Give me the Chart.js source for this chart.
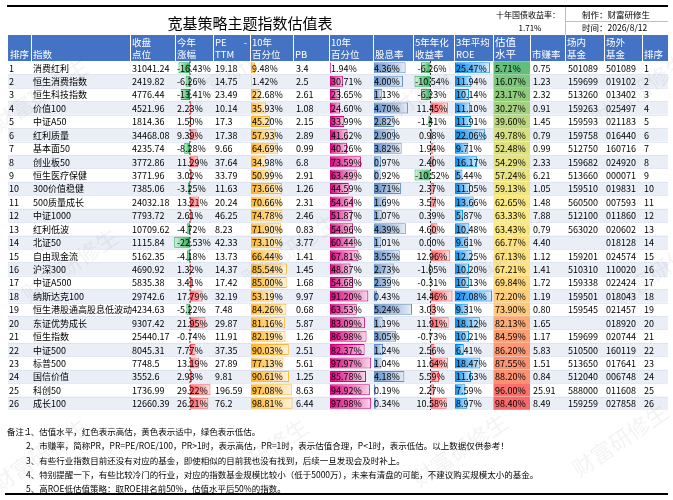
<!DOCTYPE html>
<html lang="zh">
<head>
    <meta charset="UTF-8">
    <title>宽基策略主题指数估值表</title>
    <style>
        html, body { margin: 0; padding: 0; background: #fff; }
        #wrap { width: 673px; height: 500px; position: relative; }
    </style>
</head>
<body>
    <div id="wrap"><canvas id="valuationTable"></canvas></div>

    <script src="https://cdn.jsdelivr.net/npm/chart.js@4.4.1/dist/chart.umd.min.js"></script>
    <script>

    const rowNo = ['1','2','3','4','5','6','7','8','9','10','11','12','13','14','15','16','17','18','19','20','21','22','23','24','25','26'];
    const names = ['消费红利','恒生消费指数','恒生科技指数','价值100','中证A50','红利质量','基本面50','创业板50','恒生医疗保健','300价值稳健','500质量成长','中证1000','红利低波','北证50','自由现金流','沪深300','中证A500','纳斯达克100','恒生港股通高股息低波动','东证优势成长','恒生指数','中证500','标普500','国信价值','科创50','成长100'];
    const closePts = [31041.24, 2419.82, 4776.44, 4521.96, 1814.36, 34468.08, 4235.74, 3772.86, 3771.96, 7385.06, 24032.18, 7793.72, 10709.62, 1115.84, 5162.35, 4690.92, 5835.38, 29742.6, 4234.63, 9307.42, 25440.17, 8045.31, 7748.5, 3552.6, 1736.99, 12660.39];
    const ytdChange = [-16.43, -6.26, -13.41, 2.23, 1.50, 9.39, -8.28, 11.29, 3.02, -3.25, 13.21, 2.61, -4.72, -22.53, -4.18, 1.32, 3.41, 17.79, -5.22, 21.95, -0.74, 7.77, 13.19, 2.93, 29.22, 26.21];
    const peTTM = [19.18, 14.75, 23.49, 10.14, 17.3, 17.38, 9.66, 37.64, 33.79, 11.63, 20.24, 46.25, 8.23, 42.33, 13.73, 14.37, 17.42, 32.19, 7.48, 29.87, 11.91, 37.35, 27.89, 9.81, 196.59, 76.2];
    const pePct = [9.48, 1.42, 22.68, 35.93, 45.20, 57.93, 64.69, 34.98, 50.99, 73.66, 70.66, 74.78, 71.90, 73.10, 66.44, 85.54, 85.00, 53.19, 84.26, 81.16, 82.19, 90.03, 77.13, 90.61, 97.08, 98.81];
    const pb = [3.4, 2.5, 2.61, 1.08, 2.15, 2.89, 0.99, 6.8, 2.91, 1.26, 2.31, 2.46, 0.83, 3.77, 1.41, 1.45, 1.68, 9.97, 0.68, 5.87, 1.26, 2.51, 5.61, 1.25, 8.63, 6.44];
    const pbPct = [1.94, 30.71, 23.65, 24.60, 33.99, 41.62, 40.26, 73.59, 63.49, 44.59, 54.64, 51.87, 54.96, 60.44, 67.81, 48.87, 54.68, 91.20, 63.53, 83.09, 86.98, 82.37, 97.97, 85.78, 94.92, 97.98];
    const divYield = [4.36, 4.00, 1.13, 4.70, 2.82, 2.90, 3.82, 0.97, 0.92, 3.71, 1.69, 1.07, 4.39, 1.01, 3.55, 2.73, 2.39, 0.43, 5.24, 1.19, 3.05, 1.24, 1.04, 4.18, 0.19, 0.34];
    const ann5y = [-6.26, -10.54, -6.23, 11.45, -1.41, 0.98, 1.94, 2.40, -10.52, 2.37, 3.57, 0.39, 4.60, 0.00, 12.96, -1.05, -0.31, 14.46, 3.03, 11.91, -0.73, 2.56, 11.64, 5.59, 2.27, 10.58];
    const roe3y = [25.47, 11.94, 10.14, 11.10, 11.91, 22.06, 9.71, 16.17, 5.44, 11.05, 13.66, 5.87, 10.48, 9.61, 12.25, 10.20, 10.13, 27.08, 9.31, 18.12, 10.21, 6.41, 18.47, 11.63, 7.59, 8.97];
    const valLevel = [5.71, 16.07, 23.17, 30.27, 39.60, 49.78, 52.48, 54.29, 57.24, 59.13, 62.65, 63.33, 63.43, 66.77, 67.13, 67.21, 69.84, 72.20, 73.90, 82.13, 84.59, 86.20, 87.55, 88.20, 96.00, 98.40];
    const prRatio = ['0.75','1.23','2.32','0.91','1.45','0.79','0.99','2.33','6.21','1.05','1.48','7.88','0.79','4.40','1.12','1.41','1.72','1.19','0.80','1.65','1.17','5.83','1.51','0.84','25.91','8.49'];
    const onFund = ['501089','159699','513260','159263','159593','159758','512750','159682','513660','159510','560500','512100','563020','','159201','510310','159338','159501','159545','','159699','510500','513650','512040','588000','159259'];
    const offFund = ['501089','019102','013402','025497','021183','016440','160716','024920','000071','019831','007593','011860','020602','018128','024574','110020','022424','018043','021457','018920','020744','160119','017641','006748','011608','027858'];

    const headers = [['排序'], ['指数'], ['收盘', '点位'], ['今年', '涨幅'], ['PE', 'TTM'], ['10年', '百分位'], ['PB'], ['10年', '百分位'],
                     ['股息率'], ['5年年化', '收益率'], ['3年平均', 'ROE'], ['估值', '水平'], ['市赚率'], ['场内', '基金'], ['场外', '基金'], ['排序']];
    const bondYield = '1.71%';
    const makeDate = '2026/8/12';
    const notes = [
        '1、估值水平，红色表示高估，黄色表示适中，绿色表示低估。',
        '2、市赚率，简称PR，PR=PE/ROE/100，PR>1时，表示高估，PR=1时，表示估值合理，P<1时，表示低估。以上数据仅供参考！',
        '3、有些行业指数目前还没有对应的基金，即使相似的目前我也没有找到，后续一旦发现会及时补上。',
        '4、特别提醒一下，有些比较冷门的行业，对应的指数基金规模比较小（低于5000万），未来有清盘的可能，不建议购买规模太小的基金。',
        '5、高ROE低估值策略：取ROE排名前50%，估值水平后50%的指数。'
    ];

    // ---- layout (page pixels, x scale is 1:1 with the page) ----
    const cols = [8, 31, 130, 175, 213, 250, 293, 329, 373, 413, 454, 493, 530, 565, 604, 642, 668];
    const TOP = 61, BOTTOM = 410;
    const FONT = '"Noto Sans CJK SC", "Microsoft YaHei", sans-serif';
    const ytdAxis = 190, ytdK = 0.7;
    const annAxis = 430.5, annK = 1.52;

    const pct = v => v.toFixed(2) + '%';

    function mix(hex, t) {
        const n = parseInt(hex.slice(1), 16);
        const r = n >> 16, g = (n >> 8) & 255, b = n & 255;
        const m = c => Math.round(c + (255 - c) * t);
        return `rgb(${m(r)},${m(g)},${m(b)})`;
    }

    function gradientFill(color) {
        return (c) => {
            const r = c.raw;
            const xs = c.chart.scales && c.chart.scales.x;
            if (!r || !xs) return color;
            const x0 = xs.getPixelForValue(r[0]), x1 = xs.getPixelForValue(r[1]);
            if (!isFinite(x0) || !isFinite(x1) || Math.abs(x1 - x0) < 1) return color;
            const g = c.chart.ctx.createLinearGradient(x0, 0, x1, 0);
            g.addColorStop(0, color);
            g.addColorStop(1, mix(color, 0.85));
            return g;
        };
    }

    function dataBar(values, start, k, color, negColor) {
        const posFill = gradientFill(color);
        const negFill = negColor ? gradientFill(negColor) : posFill;
        return {
            data: values.map(v => [start, start + v * k]),
            backgroundColor: (c) => (values[c.dataIndex] < 0 ? negFill : posFill)(c),
            borderColor: values.map(v => (v < 0 && negColor) ? negColor : color),
            borderWidth: 1,
            borderSkipped: false,
            grouped: false,
            barPercentage: 0.82,
            categoryPercentage: 1
        };
    }

    // 3-colour scale: min green, median yellow, max red
    const sortedVal = valLevel.slice().sort((a, b) => a - b);
    const vMin = sortedVal[0], vMax = sortedVal[sortedVal.length - 1];
    const vMid = (sortedVal[12] + sortedVal[13]) / 2;
    function lerp(a, b, t) {
        return a.map((x, i) => Math.round(x + (b[i] - x) * t));
    }
    function scaleColor(v) {
        const green = [99, 190, 123], yellow = [255, 235, 132], red = [248, 105, 107];
        const c = v <= vMid ? lerp(green, yellow, (v - vMin) / (vMid - vMin)) : lerp(yellow, red, (v - vMid) / (vMax - vMid));
        return `rgb(${c[0]},${c[1]},${c[2]})`;
    }

    const textCols = [
        { x: 9,   get: i => rowNo[i] },
        { x: 33,  get: i => names[i] },
        { x: 132, get: i => String(closePts[i]) },
        { x: 177, get: i => pct(ytdChange[i]) },
        { x: 215, get: i => String(peTTM[i]) },
        { x: 252, get: i => pct(pePct[i]) },
        { x: 296, get: i => String(pb[i]) },
        { x: 331, get: i => pct(pbPct[i]) },
        { x: 374, get: i => pct(divYield[i]) },
        { x: 432, get: i => pct(ann5y[i]), align: 'center' },
        { x: 456, get: i => pct(roe3y[i]) },
        { x: 495, get: i => pct(valLevel[i]) },
        { x: 533, get: i => prRatio[i] },
        { x: 568, get: i => onFund[i] },
        { x: 606, get: i => offFund[i] },
        { x: 644, get: i => rowNo[i] }
    ];

    const tablePlugin = {
        id: 'tablePlugin',
        beforeDatasetsDraw(chart) {
            const ctx = chart.ctx, ys = chart.scales.y;
            const h = (BOTTOM - TOP) / rowNo.length;
            ctx.save();
            rowNo.forEach((r, i) => {
                const y = ys.getPixelForValue(i);
                if (i % 2 === 1) {
                    ctx.fillStyle = '#E9EEF7';
                    ctx.fillRect(cols[0], y - h / 2, cols[cols.length - 1] - cols[0], h);
                }
            });
            ctx.strokeStyle = '#D5DCEB';
            ctx.lineWidth = 0.6;
            for (let i = 1; i < rowNo.length; i++) {
                const y = Math.round(TOP + i * h) + 0.5;
                ctx.beginPath();
                ctx.moveTo(cols[0], y);
                ctx.lineTo(cols[cols.length - 1], y);
                ctx.stroke();
            }
            ctx.restore();
        },
        afterDatasetsDraw(chart) {
            const ctx = chart.ctx, ys = chart.scales.y;
            ctx.save();

            // dashed zero axes of the two signed columns
            ctx.strokeStyle = '#333';
            ctx.lineWidth = 1;
            ctx.setLineDash([2, 2]);
            [ytdAxis, annAxis].forEach(x => {
                ctx.beginPath();
                ctx.moveTo(x, TOP);
                ctx.lineTo(x, BOTTOM);
                ctx.stroke();
            });
            ctx.setLineDash([]);

            // cell texts
            ctx.fillStyle = '#000';
            ctx.textBaseline = 'middle';
            ctx.font = '9px ' + FONT;
            rowNo.forEach((r, i) => {
                const y = ys.getPixelForValue(i) + 0.5;
                textCols.forEach(c => {
                    ctx.textAlign = c.align || 'left';
                    ctx.fillText(c.get(i), c.x, y);
                });
            });

            // header band
            ctx.fillStyle = '#4472C4';
            ctx.fillRect(cols[0], 35, cols[cols.length - 1] - cols[0], TOP - 35);
            ctx.strokeStyle = '#fff';
            ctx.lineWidth = 1;
            cols.slice(1, -1).forEach(x => {
                ctx.beginPath();
                ctx.moveTo(x + 0.5, 35);
                ctx.lineTo(x + 0.5, TOP);
                ctx.stroke();
            });
            ctx.fillStyle = '#fff';
            ctx.textAlign = 'left';
            headers.forEach((hd, j) => {
                ctx.font = (j === 11 ? '10.5px ' : '9.5px ') + FONT;
                const x = cols[j] + 2;
                if (hd.length === 1) {
                    ctx.fillText(hd[0], x, 54);
                } else {
                    ctx.fillText(hd[0], x, 42);
                    ctx.fillText(hd[1], x, 54);
                }
            });
            ctx.textAlign = 'right';
            ctx.font = '9.5px ' + FONT;
            ctx.fillText('-', cols[5] - 3, 42);

            // title block
            ctx.fillStyle = '#000';
            ctx.fillRect(7, 5, 661, 2);
            ctx.font = '15px ' + FONT;
            ctx.textAlign = 'center';
            ctx.fillText('宽基策略主题指数估值表', 250, 23);
            ctx.font = '8px ' + FONT;
            ctx.textAlign = 'right';
            ctx.fillText('十年国债收益率：', 560, 15);
            ctx.textAlign = 'center';
            ctx.fillText(bondYield, 530, 28);
            ctx.font = '8.5px ' + FONT;
            ctx.textAlign = 'left';
            ctx.fillText('制作：财富研修生', 582, 15);
            ctx.fillText('时间：' + makeDate, 582, 28);
            ctx.strokeStyle = '#BFBFBF';
            ctx.lineWidth = 1;
            ctx.beginPath();
            ctx.moveTo(565.5, 7); ctx.lineTo(565.5, 35);
            ctx.moveTo(565, 21.5); ctx.lineTo(668, 21.5);
            ctx.stroke();

            // notes
            ctx.fillStyle = '#000';
            ctx.font = '8.5px ' + FONT;
            ctx.textAlign = 'left';
            ctx.fillText('备注：', 7, 432);
            notes.forEach((t, i) => ctx.fillText(t, 26, 432 + i * 14.2));
            ctx.fillRect(5, 493, 663, 2);

            // faint watermark
            ctx.fillStyle = 'rgba(120,120,120,0.09)';
            ctx.font = '22px ' + FONT;
            ctx.textAlign = 'center';
            [[40, 95], [235, 70], [440, 80], [640, 90], [70, 265], [290, 250], [500, 255], [660, 270], [40, 455], [260, 455], [460, 450], [620, 440]].forEach(p => {
                ctx.save();
                ctx.translate(p[0], p[1]);
                ctx.rotate(-0.6);
                ctx.fillText('财富研修生', 0, 0);
                ctx.restore();
            });

            ctx.restore();
        }
    };

    const chart = new Chart(document.getElementById('valuationTable'), {
        type: 'bar',
        data: {
            labels: rowNo,
            datasets: [
                {
                    // valuation level cell fills
                    data: valLevel.map(() => [cols[11] + 0.5, cols[12]]),
                    backgroundColor: valLevel.map(scaleColor),
                    borderWidth: 0,
                    grouped: false,
                    barPercentage: 0.97,
                    categoryPercentage: 1
                },
                dataBar(ytdChange, ytdAxis, ytdK, '#FF555A', '#22B04B'),
                dataBar(pePct, 251, 0.42, '#FFB628'),
                dataBar(pbPct, 330, 0.42, '#D6007B'),
                dataBar(divYield, 374, 7.25, '#638EC6'),
                dataBar(ann5y, annAxis, annK, '#FF555A', '#22B04B'),
                dataBar(roe3y, 455, 1.37, '#008AEF')
            ]
        },
        options: {
            indexAxis: 'y',
            responsive: true,
            maintainAspectRatio: false,
            animation: false,
            layout: { padding: { top: TOP, bottom: 500 - BOTTOM, left: cols[0], right: 673 - cols[cols.length - 1] } },
            scales: {
                x: { type: 'linear', min: cols[0], max: cols[cols.length - 1], display: false },
                y: { type: 'category', display: false, offset: true }
            },
            plugins: {
                legend: { display: false },
                tooltip: { enabled: false }
            }
        },
        plugins: [tablePlugin]
    });

    </script>
</body>
</html>
